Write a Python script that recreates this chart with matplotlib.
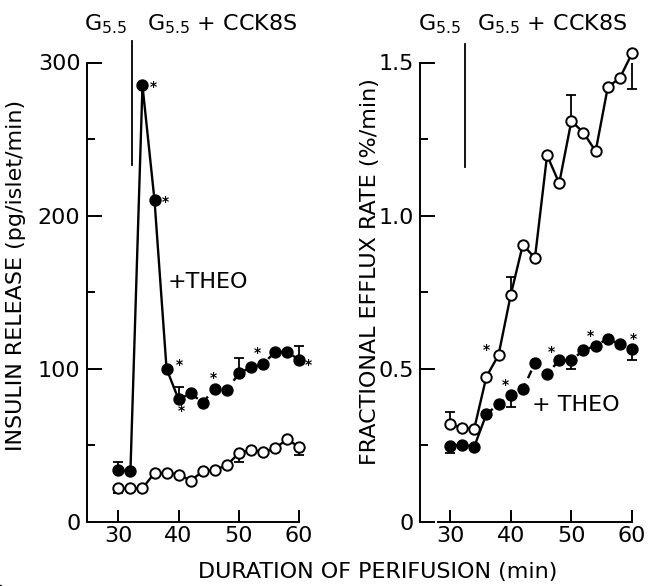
import matplotlib
matplotlib.use("Agg")
import matplotlib.pyplot as plt

plt.rcParams['font.family'] = ['Liberation Sans Narrow', 'DejaVu Sans']
plt.rcParams['mathtext.default'] = 'regular'

# sampling times (min)
minutes = [30, 32, 34, 36, 38, 40, 42, 44, 46, 48, 50, 52, 54, 56, 58, 60]

# left panel: insulin release (pg/islet/min)
insulin_theo = [34, 33, 285, 210, 100, 80, 84, 78, 87, 86, 97, 101, 103, 111, 111, 106]
insulin_ctrl = [22, 22, 22, 32, 32, 31, 27, 33, 34, 37, 45, 47, 45.5, 48, 54, 49]

# right panel: fractional efflux rate (%/min)
efflux_theo = [0.249, 0.251, 0.246, 0.352, 0.385, 0.414, 0.433, 0.519,
               0.483, 0.528, 0.528, 0.561, 0.575, 0.599, 0.580, 0.566]
efflux_ctrl = [0.320, 0.307, 0.305, 0.474, 0.545, 0.740, 0.905, 0.862,
               1.197, 1.106, 1.309, 1.271, 1.210, 1.419, 1.450, 1.530]

# SEM bars (one-sided, as drawn)
err_minutes = [30, 40, 50, 60]
insulin_theo_lo = [0, 0, 0, 0]
insulin_theo_hi = [5, 8, 10, 9]
insulin_ctrl_lo = [3, 0, 6, 5]
insulin_ctrl_hi = [0, 0, 0, 0]
efflux_theo_lo = [0.025, 0.04, 0.027, 0.038]
efflux_theo_hi = [0, 0, 0, 0]
efflux_ctrl_lo = [0, 0, 0, 0.115]
efflux_ctrl_hi = [0.04, 0.06, 0.085, 0]

# significance marks: (minute, offset x, offset y in points)
insulin_stars = [(34, 8, -1), (36, 8, -1), (38, 9, 3), (40, 2, -8), (46, -1, 8), (54, -4, 8), (60, 7, -4)]
efflux_theo_stars = [(40, -4, 7), (46, 3, 16), (54, -4, 7), (60, 1, 7)]
efflux_ctrl_stars = [(36, 0, 19)]

# when CCK8S is added
stim_left = 32.2
stim_right = 32.5

W, H = 656, 586
fig = plt.figure(figsize=(W / 100, H / 100), dpi=100)

ax1 = fig.add_axes([86.7 / W, 64 / H, 224.4 / W, 459.5 / H])
ax2 = fig.add_axes([420 / W, 64 / H, 224 / W, 459.5 / H])

mk = dict(marker='o', markersize=7.5, markeredgewidth=1.4, markeredgecolor='black')


def panel(ax, theo, ctrl, split, th_lo, th_hi, ct_lo, ct_hi, theo_stars, ctrl_stars):
    # +THEO: solid early, dashed later
    ax.plot(minutes[:split + 1], theo[:split + 1], color='black', lw=1.7,
            clip_on=False, zorder=2)
    ax.plot(minutes[split:], theo[split:], color='black', lw=1.7,
            linestyle=(0, (3.5, 2.5)), clip_on=False, zorder=2)
    ax.plot(minutes, theo, linestyle='none', markerfacecolor='black',
            clip_on=False, zorder=4, **mk)
    # control
    ax.plot(minutes, ctrl, color='black', lw=1.7, clip_on=False, zorder=2)
    ax.plot(minutes, ctrl, linestyle='none', markerfacecolor='white',
            clip_on=False, zorder=4, **mk)

    th_at = [theo[minutes.index(m)] for m in err_minutes]
    ct_at = [ctrl[minutes.index(m)] for m in err_minutes]
    ax.errorbar(err_minutes, th_at, yerr=[th_lo, th_hi], fmt='none',
                ecolor='black', elinewidth=1.3, capsize=3.5, capthick=1.3, zorder=3)
    ax.errorbar(err_minutes, ct_at, yerr=[ct_lo, ct_hi], fmt='none',
                ecolor='black', elinewidth=1.3, capsize=3.5, capthick=1.3, zorder=3)

    for series, stars in ((theo, theo_stars), (ctrl, ctrl_stars)):
        for m, dx, dy in stars:
            ax.annotate('*', xy=(m, series[minutes.index(m)]), xytext=(dx, dy),
                        textcoords='offset points', ha='center', va='center',
                        fontsize=10, family='DejaVu Sans', fontweight='bold')

    for s in ('top', 'right'):
        ax.spines[s].set_visible(False)
    ax.spines['left'].set_linewidth(1.4)
    ax.spines['bottom'].set_linewidth(1.4)
    ax.tick_params(axis='y', which='major', direction='in', length=11, width=1.4,
                   pad=4.5, labelsize=16)
    ax.tick_params(axis='y', which='minor', direction='in', length=5.5, width=1.4)
    ax.tick_params(axis='x', direction='in', length=9, width=1.4, pad=3, labelsize=16)
    ax.set_xticks([30, 40, 50, 60])


# left panel
panel(ax1, insulin_theo, insulin_ctrl, 5, insulin_theo_lo, insulin_theo_hi,
      insulin_ctrl_lo, insulin_ctrl_hi, insulin_stars, [])
ax1.set_xlim(24.74, 62)
ax1.set_ylim(0, 300)
ax1.set_yticks([0, 100, 200, 300])
ax1.set_yticks([50, 150, 250], minor=True)
ax1.spines['bottom'].set_bounds(27.5, 60)
ax1.axvline(stim_left, ymin=233 / 300, ymax=314 / 300, color='black', lw=1.3,
            clip_on=False)
ax1.text(38.1, 157, '+THEO', fontsize=16, va='center', ha='left')

# right panel
panel(ax2, efflux_theo, efflux_ctrl, 3, efflux_theo_lo, efflux_theo_hi,
      efflux_ctrl_lo, efflux_ctrl_hi, efflux_theo_stars, efflux_ctrl_stars)
ax2.set_xlim(25.06, 61.97)
ax2.set_ylim(0, 1.5)
ax2.set_yticks([0, 0.5, 1.0, 1.5])
ax2.set_yticklabels(['0', '0.5', '1.0', '1.5'])
ax2.set_yticks([0.25, 0.75, 1.25], minor=True)
ax2.spines['bottom'].set_bounds(28.0, 60)
ax2.axvline(stim_right, ymin=1.158 / 1.5, ymax=1.562 / 1.5, color='black', lw=1.3,
            clip_on=False)
ax2.text(43.5, 0.383, '+ THEO', fontsize=16, va='center', ha='left')

# axis break marks
for x0 in (100, 438.3):
    fig.lines.append(plt.Line2D([x0 / W, (x0 + 3.5) / W], [1 - 523 / H, 1 - 516.5 / H],
                                color='black', lw=1.3))
for x0 in (88, 421.5):
    fig.lines.append(plt.Line2D([x0 / W, (x0 + 3) / W, (x0 + 5) / W],
                                [1 - 517 / H, 1 - 521 / H, 1 - 515 / H],
                                color='black', lw=1.1))

# headers
top = 1 - 30 / H
fig.text(84 / W, top, 'G$_{5.5}$', fontsize=16, va='baseline')
fig.text(147 / W, top, 'G$_{5.5}$ + CCK8S', fontsize=16, va='baseline')
fig.text(418 / W, top, 'G$_{5.5}$', fontsize=16, va='baseline')
fig.text(477 / W, top, 'G$_{5.5}$ + CCK8S', fontsize=16, va='baseline')

# axis titles
fig.text(16 / W, 1 - 275 / H, 'INSULIN RELEASE (pg/islet/min)', rotation=90,
         fontsize=16, ha='center', va='center')
fig.text(370 / W, 1 - 272 / H, 'FRACTIONAL EFFLUX RATE (%/min)', rotation=90,
         fontsize=16, ha='center', va='center')
fig.text(378 / W, 1 - 572 / H, 'DURATION OF PERIFUSION (min)', fontsize=16,
         ha='center', va='center')

fig.savefig('out.png', dpi=100)
